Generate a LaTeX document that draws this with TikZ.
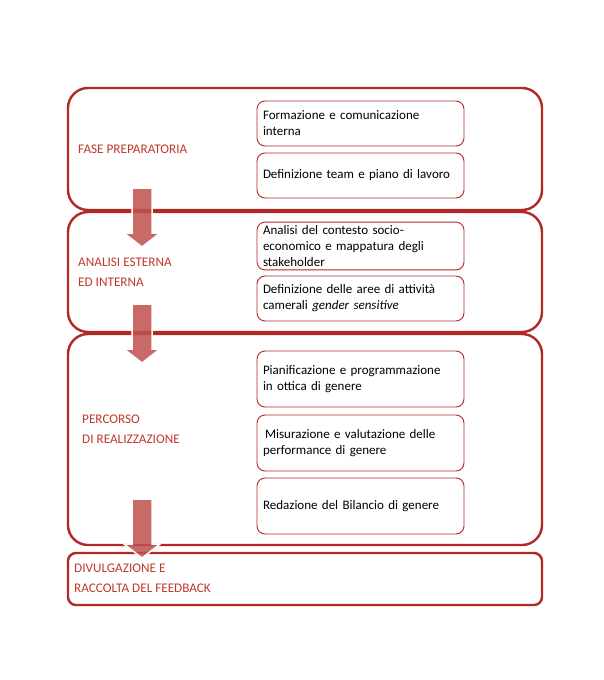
\documentclass[tikz,border=0pt]{standalone}
\usepackage{fontspec}
\setmainfont{Carlito}
\definecolor{boxred}{RGB}{178,40,34}
\definecolor{txtred}{RGB}{192,57,43}
\definecolor{arrred}{RGB}{192,80,77}
\begin{document}
\begin{tikzpicture}[x=1pt,y=-1pt,
  phase/.style={draw=boxred,line width=2.4pt,rounded corners=20pt},
  lastphase/.style={draw=boxred,line width=2.4pt,rounded corners=8pt},
  stepbox/.style={draw=boxred,line width=0.9pt,rounded corners=8pt,
    minimum width=207pt,minimum height=45pt,text width=195pt,inner xsep=6pt,
    align=left,font=\fontsize{13}{16}\selectfont,text=black},
  tallbox/.style={stepbox,minimum height=56pt},
  phaselabel/.style={anchor=west,inner sep=0pt,align=left,text=txtred,
    font=\fontsize{13.2}{20}\selectfont},
  blockarrow/.style={fill=arrred,fill opacity=0.85,draw=white,line width=1.5pt,draw opacity=1}
]
\useasboundingbox (0,0) rectangle (604,680);
\fill[white] (0,0) rectangle (604,680);

% phase frames
\draw[phase] (68,88) rectangle (542,210);
\draw[phase] (68,212) rectangle (542,332);
\draw[phase] (68,334) rectangle (542,545);
\draw[lastphase] (68,553) rectangle (542,605);

% phase labels
\node[phaselabel] (l1) at (78,149) {FASE PREPARATORIA};
\node[phaselabel] (l2) at (78,272) {ANALISI ESTERNA\\ED INTERNA};
\node[phaselabel] (l3) at (82,429) {PERCORSO\\DI REALIZZAZIONE};
\node[phaselabel] (l4) at (74,578) {DIVULGAZIONE E\\RACCOLTA DEL FEEDBACK};

% step boxes
\node[stepbox] (a) at (360.5,123.5) {Formazione e comunicazione\\interna};
\node[stepbox] (b) at (360.5,175.5) {Definizione team e piano di lavoro};
\node[stepbox] (c) at (360.5,246) {Analisi del contesto socio-\\economico e mappatura degli\\stakeholder};
\node[stepbox] (d) at (360.5,298.5) {Definizione delle aree di attività\\camerali \textit{gender sensitive}};
\node[tallbox] (e) at (360.5,379) {Pianificazione e programmazione\\in ottica di genere};
\node[tallbox] (f) at (360.5,443) {\hspace{2pt}Misurazione e valutazione delle\\performance di genere};
\node[tallbox] (g) at (360.5,506) {Redazione del Bilancio di genere};

% block arrows
\foreach \t/\n in {188/ar1,304/ar2,499/ar3}{
  \coordinate (\n) at (142,\t);
  \draw[blockarrow] ([xshift=-10pt]\n) -- ++(0,45) -- ++(-8,0) -- ++(18,14)
    -- ++(18,-14) -- ++(-8,0) -- ++(0,-45) -- cycle;
}
\end{tikzpicture}
\end{document}
